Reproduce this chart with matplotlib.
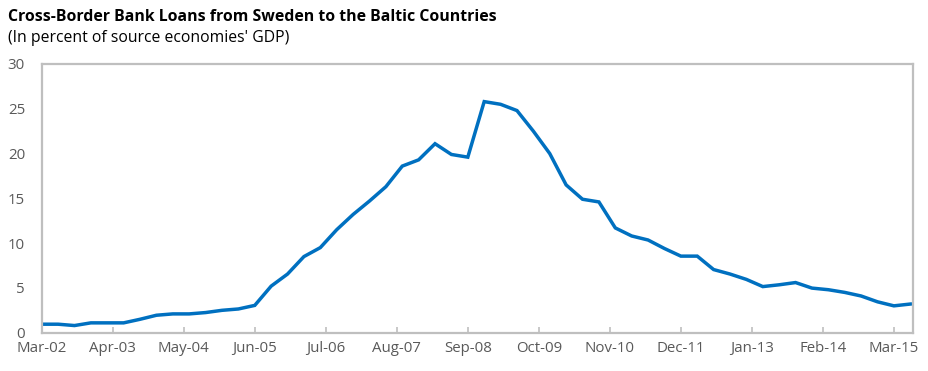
import numpy as np
import matplotlib.pyplot as plt

# quarterly observations, Mar-02 .. Jun-15 (percent of GDP)
loans = [0.95, 0.95, 0.8, 1.1, 1.1, 1.1, 1.5, 1.95, 2.1, 2.1,
         2.25, 2.5, 2.65, 3.05, 5.2, 6.55, 8.5, 9.5, 11.5, 13.2,
         14.7, 16.3, 18.6, 19.3, 21.1, 19.9, 19.6, 25.8, 25.5, 24.8,
         22.5, 20.0, 16.5, 14.9, 14.6, 11.7, 10.8, 10.35, 9.4, 8.55,
         8.55, 7.05, 6.55, 5.95, 5.15, 5.35, 5.6, 4.98, 4.8, 4.5,
         4.1, 3.45, 3.0, 3.2]
tick_labels = ["Mar-02", "Apr-03", "May-04", "Jun-05", "Jul-06", "Aug-07",
               "Sep-08", "Oct-09", "Nov-10", "Dec-11", "Jan-13", "Feb-14",
               "Mar-15"]

# months since Mar-02
months = np.arange(len(loans)) * 3
tick_pos = np.arange(len(tick_labels)) * 13

plt.rcParams['font.family'] = ['Open Sans', 'DejaVu Sans']

fig = plt.figure(figsize=(9.29, 3.71), dpi=100)
ax = fig.add_axes([0.0449, 0.1032, 0.9379, 0.7243])

ax.plot(months, loans, color='#0070C0', linewidth=2.5, solid_joinstyle='miter')

ax.set_xlim(0, 159.5)
ax.set_ylim(0, 30)
ax.set_yticks(range(0, 31, 5))
ax.set_xticks(tick_pos)
ax.set_xticklabels(tick_labels)

for s in ax.spines.values():
    s.set_color('#bfbfbf')
    s.set_linewidth(1.6)

ax.tick_params(axis='x', direction='in', length=4, width=1.2, color='#bfbfbf',
               labelsize=10.8, labelcolor='#595959', pad=6)
ax.tick_params(axis='y', length=0, labelsize=10.8, labelcolor='#595959', pad=12)

fig.text(0.0086, 0.953, "Cross-Border Bank Loans from Sweden to the Baltic Countries",
         fontsize=11.4, fontweight='bold', color='black', va='center')
fig.text(0.0086, 0.897, "(In percent of source economies' GDP)",
         fontsize=11.3, color='black', va='center')

fig.savefig('out.png', dpi=100)
